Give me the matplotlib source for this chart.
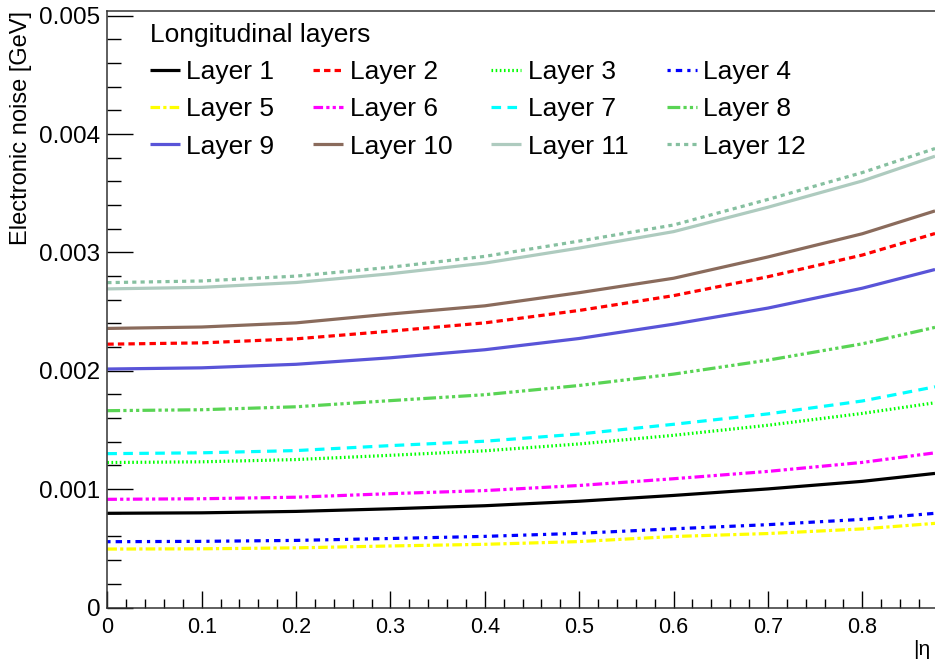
import numpy as np
import matplotlib
matplotlib.use("Agg")
import matplotlib.pyplot as plt
from matplotlib.ticker import MultipleLocator, FuncFormatter

plt.rcParams['font.family'] = ['Liberation Sans', 'DejaVu Sans']

eta = [0.0, 0.1, 0.2, 0.3, 0.4, 0.5, 0.6, 0.7, 0.8, 0.877]

# electronic noise per layer, in units of 1e-3 GeV
layer1 = [0.796, 0.800, 0.812, 0.834, 0.860, 0.898, 0.947, 1.002, 1.066, 1.133]
layer2 = [2.225, 2.236, 2.270, 2.335, 2.405, 2.510, 2.635, 2.795, 2.978, 3.160]
layer3 = [1.225, 1.231, 1.250, 1.286, 1.324, 1.382, 1.455, 1.540, 1.640, 1.730]
layer4 = [0.556, 0.559, 0.567, 0.583, 0.601, 0.627, 0.665, 0.700, 0.745, 0.796]
layer5 = [0.494, 0.496, 0.504, 0.520, 0.534, 0.557, 0.600, 0.625, 0.664, 0.711]
layer6 = [0.914, 0.919, 0.932, 0.962, 0.988, 1.031, 1.088, 1.150, 1.226, 1.307]
layer7 = [1.300, 1.307, 1.326, 1.368, 1.405, 1.466, 1.548, 1.636, 1.745, 1.865]
layer8 = [1.663, 1.671, 1.696, 1.748, 1.798, 1.876, 1.972, 2.090, 2.228, 2.367]
layer9 = [2.015, 2.025, 2.055, 2.110, 2.178, 2.273, 2.394, 2.530, 2.698, 2.856]
layer10 = [2.358, 2.370, 2.405, 2.480, 2.549, 2.660, 2.782, 2.962, 3.158, 3.351]
layer11 = [2.692, 2.705, 2.746, 2.820, 2.910, 3.037, 3.176, 3.382, 3.604, 3.813]
layer12 = [2.745, 2.759, 2.800, 2.875, 2.967, 3.096, 3.232, 3.448, 3.675, 3.878]

labels = ["Layer %d" % i for i in range(1, 13)]
series = [layer1, layer2, layer3, layer4, layer5, layer6,
          layer7, layer8, layer9, layer10, layer11, layer12]
colors = ["#000000", "#ff0000", "#00ff00", "#0000ff", "#ffff00", "#ff00ff",
          "#00ffff", "#59d454", "#5954d8", "#8a6b5c", "#aecbbf", "#86c0a0"]
dashes = [None, (2.0, 1.3), (0.5, 0.8), (1.0, 1.6, 2.0, 1.6), (3.0, 1.0, 1.0, 1.0),
          (3.0, 1.0, 1.0, 1.0, 1.0, 1.0), (3.0, 2.0), (4.0, 1.0, 1.0, 1.0, 1.0, 1.0, 1.0, 1.0),
          None, None, None, (1.3, 1.3)]

fig = plt.figure(figsize=(9.35, 6.63), dpi=100)
ax = fig.add_axes([0.1148, 0.0837, 0.8852, 0.8997])

handles = []
for y, lab, c, d in zip(series, labels, colors, dashes):
    yv = np.array(y) * 1e-3
    if d is None:
        h, = ax.plot(eta, yv, color=c, lw=2.3, label=lab, solid_capstyle="butt")
    else:
        h, = ax.plot(eta, yv, color=c, lw=2.3, label=lab, dashes=d, dash_capstyle="butt")
    handles.append(h)

ax.set_xlim(0, 0.877)
ax.set_ylim(0, 0.00504)

ax.xaxis.set_major_locator(MultipleLocator(0.1))
ax.xaxis.set_minor_locator(MultipleLocator(0.02))
ax.yaxis.set_major_locator(MultipleLocator(0.001))
ax.yaxis.set_minor_locator(MultipleLocator(0.0002))
ax.xaxis.set_major_formatter(FuncFormatter(lambda v, p: "0" if abs(v) < 1e-9 else "%.1f" % v))
ax.yaxis.set_major_formatter(FuncFormatter(lambda v, p: "0" if abs(v) < 1e-9 else "%.3f" % v))

ax.tick_params(axis="both", which="both", direction="in", top=False, right=False, width=1)
ax.tick_params(axis="y", which="major", length=18.5, labelsize=17.5, pad=5)
ax.tick_params(axis="y", which="minor", length=10)
ax.tick_params(axis="x", which="major", length=12.3, labelsize=15.5, pad=7)
ax.tick_params(axis="x", which="minor", length=6.5)

for s in ["left", "bottom", "top"]:
    ax.spines[s].set_linewidth(1.1)
    ax.spines[s].set_color("#333333")
ax.spines["right"].set_visible(False)

ax.set_ylabel("Electronic noise [GeV]", fontsize=17, loc="top", labelpad=5)
ax.text(0.995, -0.055, "|\u03b7", transform=ax.transAxes, fontsize=15,
        ha="right", va="top")

# row-major order in a column-filled legend
order = [0, 4, 8, 1, 5, 9, 2, 6, 10, 3, 7, 11]
leg = ax.legend([handles[i] for i in order], [labels[i] for i in order],
                ncol=4, title="Longitudinal layers", fontsize=19, title_fontsize=19,
                frameon=False, loc="upper left", bbox_to_anchor=(0.051, 0.98),
                borderpad=0, borderaxespad=0, handlelength=1.15, handletextpad=0.25,
                columnspacing=1.45, labelspacing=0.5, alignment="left")

fig.savefig("out.png", dpi=100)
